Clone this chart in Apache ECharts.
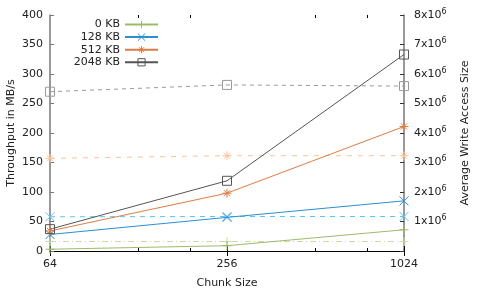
<!DOCTYPE html>
<html><head><meta charset="utf-8">
<script src="https://cdn.jsdelivr.net/npm/echarts@6/dist/echarts.min.js"></script>
<style>html,body{margin:0;padding:0;background:#fff}#c{width:485px;height:291px}</style>
</head><body><div id="c"></div>
<script>
const chunkSizes = [64, 256, 1024];
const seriesNames = ['0 KB', '128 KB', '512 KB', '2048 KB'];
const throughput0 = [3, 9, 36];
const throughput128 = [28, 57, 85];
const throughput512 = [34, 98, 211];
const throughput2048 = [37, 119, 333];
const access0 = [320000, 320000, 320000];
const access128 = [1160000, 1170000, 1170000];
const access512 = [3140000, 3230000, 3230000];
const access2048 = [5400000, 5630000, 5590000];
const minorTickValues = [128, 192, 512, 768];

const throughputs = [throughput0, throughput128, throughput512, throughput2048];
const accesses = [access0, access128, access512, access2048];
const solidColors = ['#9cbb6a', '#2c8ed3', '#de7d43', '#555555'];
const lightColors = ['#c9daa6', '#5cc3f3', '#fbc397', '#9a9a9a'];
const symbols = [
  'path://M5,0L5,10M0,5L10,5',
  'path://M0,0L10,10M10,0L0,10',
  'path://M5,0L5,10M0,5L10,5M1.6,1.6L8.4,8.4M8.4,1.6L1.6,8.4',
  'path://M0,0L10,0L10,10L0,10Z'
];
const dashTypes = [[6,3,1,3], [5,5], [5,6], [4,4]];
const FONT = 'DejaVu Sans';

const pairs = arr => chunkSizes.map((x, i) => [x, arr[i]]);
const series = [];
seriesNames.forEach((n, i) => {
  series.push({
    name: n, type: 'line', xAxisIndex: 0, yAxisIndex: 0,
    data: pairs(throughputs[i]),
    symbol: symbols[i], symbolSize: 9,
    lineStyle: {color: solidColors[i], width: 1},
    itemStyle: {color: 'rgba(0,0,0,0)', borderColor: solidColors[i], borderWidth: 1},
    animation: false, z: 3
  });
  series.push({
    name: n + ' avg', type: 'line', xAxisIndex: 0, yAxisIndex: 1,
    data: pairs(accesses[i]),
    symbol: symbols[i], symbolSize: 9,
    lineStyle: {color: lightColors[i], width: 1, type: dashTypes[i]},
    itemStyle: {color: 'rgba(0,0,0,0)', borderColor: lightColors[i], borderWidth: 1},
    animation: false, z: 2
  });
});

const legends = seriesNames.map((n, i) => ({
  data: [n], orient: 'vertical', align: 'right', right: 326, top: 19 + i * 12.6,
  itemWidth: 33, itemHeight: 9, padding: 0,
  itemStyle: {color: 'rgba(0,0,0,0)', borderColor: solidColors[i], borderWidth: 1},
  textStyle: {fontFamily: FONT, fontSize: 11, color: '#222'}
}));

const xBase = {
  type: 'log', logBase: 4, min: 64, max: 1024,
  splitLine: {show: false}
};

const option = {
  backgroundColor: '#fff',
  animation: false,
  grid: {left: 50, right: 81, top: 15, bottom: 40, outerBoundsMode: 'none', containLabel: false},
  legend: legends,
  xAxis: [
    Object.assign({}, xBase, {
      position: 'bottom', name: 'Chunk Size', nameLocation: 'middle', nameGap: 27,
      nameTextStyle: {fontFamily: FONT, fontSize: 11, color: '#222'},
      axisLine: {lineStyle: {color: '#000', width: 1}},
      axisTick: {inside: true, length: 5, lineStyle: {color: '#000'}},
      axisLabel: {fontFamily: FONT, fontSize: 11, color: '#222', margin: 8, formatter: v => String(v)}
    }),
    Object.assign({}, xBase, {
      position: 'top',
      axisLine: {lineStyle: {color: '#000', width: 1}},
      axisTick: {inside: true, length: 5, lineStyle: {color: '#000'}},
      axisLabel: {show: false}
    }),
    Object.assign({}, xBase, {
      position: 'bottom', axisLine: {show: false},
      axisTick: {inside: true, length: 3, customValues: minorTickValues, lineStyle: {color: '#000'}},
      axisLabel: {show: false}
    }),
    Object.assign({}, xBase, {
      position: 'top', axisLine: {show: false},
      axisTick: {inside: true, length: 3, customValues: minorTickValues, lineStyle: {color: '#000'}},
      axisLabel: {show: false}
    })
  ],
  yAxis: [
    {
      type: 'value', min: 0, max: 400, interval: 50, position: 'left',
      name: 'Throughput in MB/s', nameLocation: 'middle', nameGap: 33, nameRotate: 90,
      nameMoveOverlap: false,
      nameTextStyle: {fontFamily: FONT, fontSize: 11, color: '#222'},
      axisLine: {show: true, lineStyle: {color: '#777', width: 1.5}},
      axisTick: {show: true, inside: true, length: 4, lineStyle: {color: '#777'}},
      axisLabel: {fontFamily: FONT, fontSize: 11, color: '#222', margin: 7},
      splitLine: {show: false}
    },
    {
      type: 'value', min: 0, max: 8000000, interval: 1000000, position: 'right',
      name: 'Average Write Access Size', nameLocation: 'middle', nameGap: 56, nameRotate: 90,
      nameTextStyle: {fontFamily: FONT, fontSize: 11, color: '#222'},
      axisLine: {show: true, lineStyle: {color: '#777', width: 1.5}},
      axisTick: {show: true, inside: true, length: 4, lineStyle: {color: '#333'}},
      axisLabel: {
        fontFamily: FONT, fontSize: 11, color: '#222', margin: 10,
        formatter: v => v === 0 ? '' : '{a|' + (v / 1e6) + 'x10}{s|6}',
        rich: {
          a: {fontFamily: FONT, fontSize: 11, color: '#222'},
          s: {fontFamily: FONT, fontSize: 8, color: '#222', padding: [0, 0, 7, 0]}
        }
      },
      splitLine: {show: false}
    }
  ],
  series: series
};
const chart = echarts.init(document.getElementById('c'), null, {renderer: 'canvas'});
chart.setOption(option);
</script></body></html>
